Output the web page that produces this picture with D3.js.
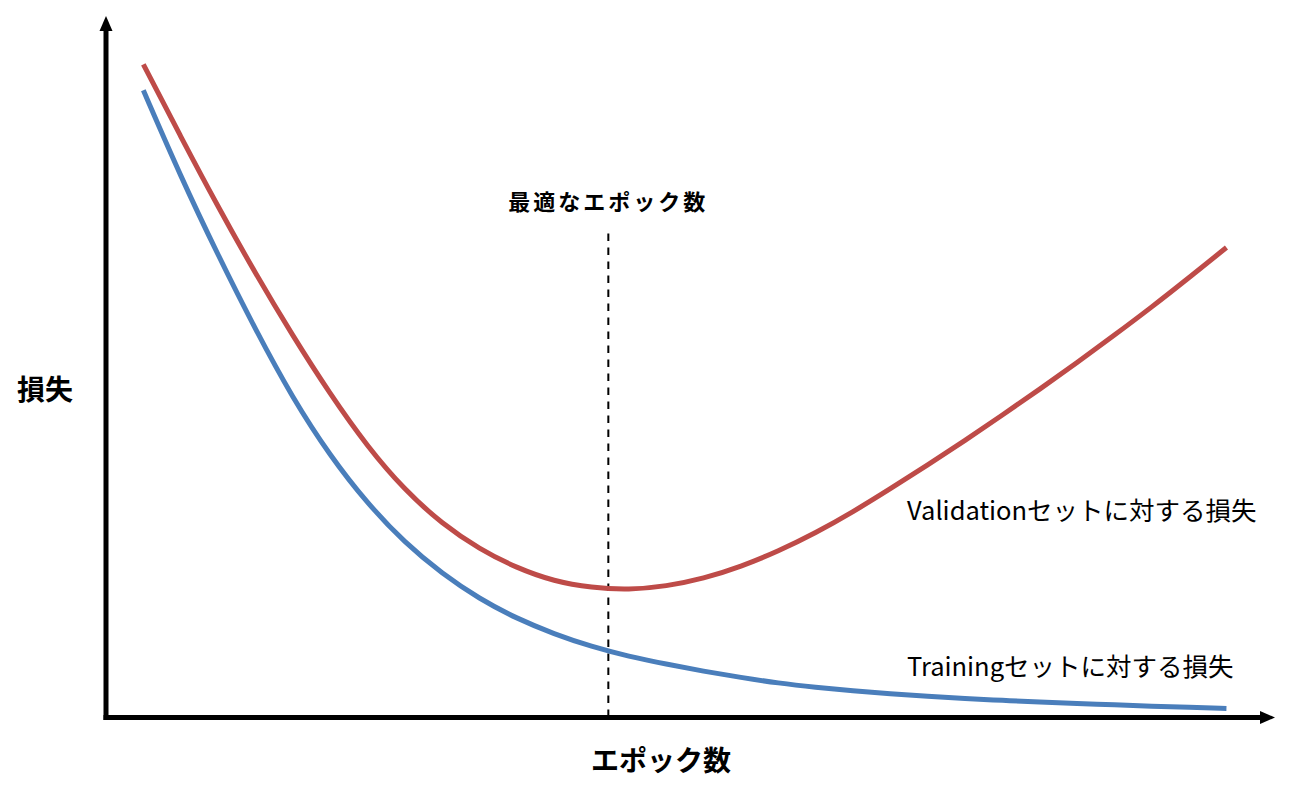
<!DOCTYPE html>
<html>
<head>
<meta charset="utf-8">
<script src="https://cdn.jsdelivr.net/npm/d3@7"></script>
<style>
  html, body { margin: 0; padding: 0; background: #fff; }
  svg { display: block; }
  text { font-family: "Noto Sans CJK JP", "Noto Sans", sans-serif; fill: #000; }
</style>
</head>
<body>
<svg id="chart" width="1310" height="797"></svg>
<script>
// ---- data ----
const epochs = [1,2,3,4,5,6,7,8,9,10,11,12,13,14,15,16,17,18,19,20,21,22,23,24,25,26,27,28,29,30];
const validationLoss = [9.31,8.28,7.28,6.33,5.44,4.61,3.86,3.24,2.76,2.40,2.13,1.94,1.85,1.82,1.87,1.98,2.15,2.37,2.63,2.93,3.26,3.60,3.95,4.31,4.68,5.06,5.45,5.85,6.27,6.70];
const trainingLoss   = [8.94,7.71,6.59,5.53,4.55,3.73,3.05,2.49,2.05,1.69,1.41,1.19,1.01,0.87,0.76,0.66,0.57,0.49,0.43,0.38,0.34,0.30,0.27,0.245,0.22,0.20,0.18,0.16,0.145,0.13];
const optimalEpoch = 13.45;
const xAxisMax = 31.3;
const yAxisMax = 10;
const labels = {
  x: "エポック数",
  y: "損失",
  optimal: "最適なエポック数",
  validation: "Validationセットに対する損失",
  training: "Trainingセットに対する損失"
};

// ---- scales ----
const svg = d3.select("#chart");
const x = d3.scaleLinear().domain([0, xAxisMax]).range([106, 1275]);
const y = d3.scaleLinear().domain([0, yAxisMax]).range([717.5, 16]);

const line = d3.line()
  .x((d, i) => x(epochs[i]))
  .y(d => y(d))
  .curve(d3.curveBasis);

// dashed optimal line
svg.append("line")
  .attr("x1", x(optimalEpoch)).attr("x2", x(optimalEpoch))
  .attr("y1", y(6.9)).attr("y2", y(0))
  .attr("stroke", "#000").attr("stroke-width", 2)
  .attr("stroke-dasharray", "7.5,6.5");

// curves
svg.append("path").datum(trainingLoss)
  .attr("d", line).attr("fill", "none")
  .attr("stroke", "#4A7EBB").attr("stroke-width", 5);
svg.append("path").datum(validationLoss)
  .attr("d", line).attr("fill", "none")
  .attr("stroke", "#BE4B48").attr("stroke-width", 5);

// axes
const x0 = x(0), y0 = y(0);
svg.append("line")
  .attr("x1", x0).attr("y1", y0 + 2.5).attr("x2", x0).attr("y2", y(yAxisMax) + 12)
  .attr("stroke", "#000").attr("stroke-width", 5);
svg.append("line")
  .attr("x1", x0 - 2.5).attr("y1", y0).attr("x2", x(xAxisMax) - 12).attr("y2", y0)
  .attr("stroke", "#000").attr("stroke-width", 5);
// arrowheads
const ty = y(yAxisMax);
svg.append("path")
  .attr("d", `M${x0},${ty} L${x0 - 6.5},${ty + 15} L${x0 + 6.5},${ty + 15} Z`)
  .attr("fill", "#000");
const tx = x(xAxisMax);
svg.append("path")
  .attr("d", `M${tx},${y0} L${tx - 15},${y0 - 6.5} L${tx - 15},${y0 + 6.5} Z`)
  .attr("fill", "#000");

// texts
svg.append("text")
  .attr("x", x(optimalEpoch)).attr("y", 210)
  .attr("text-anchor", "middle")
  .attr("font-size", 22).attr("font-weight", "bold")
  .attr("letter-spacing", "3px")
  .text(labels.optimal);

svg.append("text")
  .attr("x", 661).attr("y", 771)
  .attr("text-anchor", "middle")
  .attr("font-size", 28).attr("font-weight", "bold")
  .text(labels.x);

svg.append("text")
  .attr("x", 45).attr("y", 400)
  .attr("text-anchor", "middle")
  .attr("font-size", 28).attr("font-weight", "bold")
  .text(labels.y);

svg.append("text")
  .attr("x", 907).attr("y", 520)
  .attr("font-size", 25.5)
  .text(labels.validation);

svg.append("text")
  .attr("x", 907).attr("y", 676)
  .attr("font-size", 25.5)
  .text(labels.training);
</script>
</body>
</html>
